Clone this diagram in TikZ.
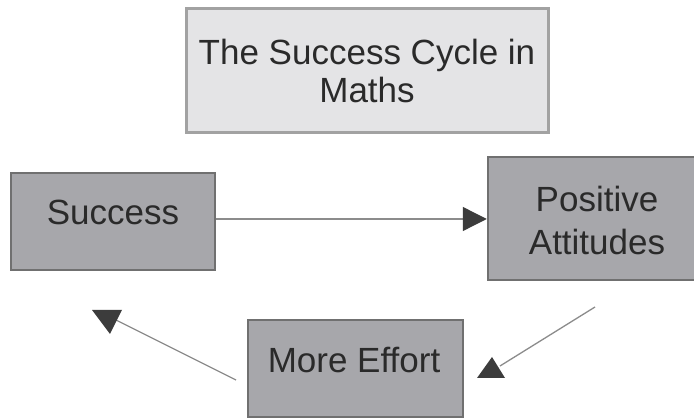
\documentclass[tikz,border=0pt]{standalone}
\usepackage{fontspec}
\setmainfont{Liberation Sans}
\usetikzlibrary{arrows.meta}
\definecolor{titlefill}{HTML}{E4E4E6}
\definecolor{titleedge}{HTML}{A2A2A2}
\definecolor{boxfill}{HTML}{A7A7AB}
\definecolor{boxedge}{HTML}{707070}
\definecolor{linegray}{HTML}{8C8C8C}
\definecolor{headgray}{HTML}{3C3C3C}
\definecolor{txt}{HTML}{2A2A2A}
\begin{document}
\begin{tikzpicture}[x=1pt,y=-1pt,
  titleshape/.style={draw=titleedge,fill=titlefill,line width=3pt,rectangle,inner sep=0pt},
  boxshape/.style={draw=boxedge,fill=boxfill,line width=2.5pt,rectangle,inner sep=0pt},
  labeltext/.style={font=\fontsize{35}{38}\selectfont,text=txt,anchor=base,inner sep=0pt},
  conn/.style={draw=linegray,line width=1.3pt},
  headfill/.style={fill=headgray}]
\useasboundingbox (0,0) rectangle (694,419);
\clip (0,0) rectangle (694,419);
\fill[white] (0,0) rectangle (694,419);
% boxes
\node[titleshape,minimum width=362pt,minimum height=124pt] (title) at (367,71) {};
\node[boxshape,minimum width=204pt,minimum height=97pt] (succ) at (113,221.5) {};
\node[boxshape,minimum width=212pt,minimum height=123pt] (pos) at (594,218.5) {};
\node[boxshape,minimum width=215pt,minimum height=97pt] (eff) at (355.5,368.5) {};
% texts
\node[labeltext] (t1) at (367,65) {The Success Cycle in};
\node[labeltext] (t2) at (367,103) {Maths};
\node[labeltext] (succtext) at (113,225) {Success};
\node[labeltext] (pos1) at (597,212) {Positive};
\node[labeltext] (pos2) at (597,255) {Attitudes};
\node[labeltext] (efftext) at (354,373) {More Effort};
% connectors
\coordinate (hline) at (0,219);
\draw[conn,-{Triangle[length=24pt,width=24pt,color=headgray]}] (succ.east |- hline) -- (pos.west |- hline);
\coordinate (rstart) at (595,307);
\coordinate (rend) at (500,366);
\draw[conn] (rstart) -- (rend);
\fill[headfill] (477,378) -- (505,378) -- (492,357) -- cycle;
\coordinate (lstart) at (236,380);
\coordinate (lend) at (116,320);
\draw[conn] (lstart) -- (lend);
\fill[headfill] (92,310) -- (122,310) -- (110,334) -- cycle;
\end{tikzpicture}
\end{document}
